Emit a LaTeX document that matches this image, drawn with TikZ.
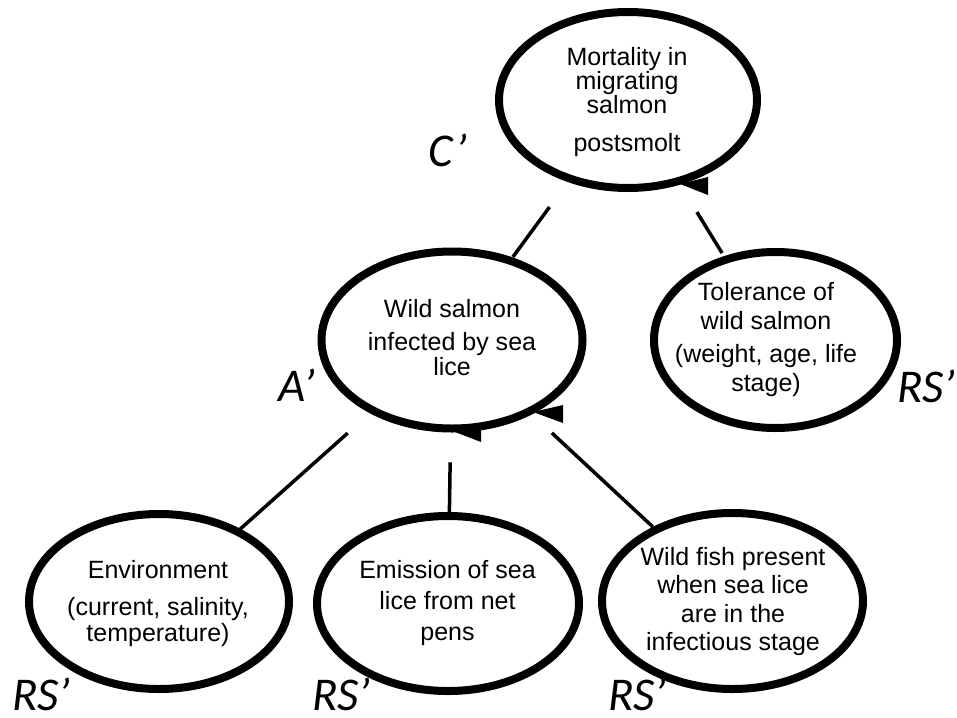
\documentclass[tikz,border=0pt]{standalone}
\usepackage{fontspec}
\setmainfont{Liberation Sans}
\newfontfamily\lblfont{Carlito}
\usetikzlibrary{shapes.geometric,calc}
\tikzset{
  bubble/.style={ellipse, draw=black, line width=8pt, inner sep=0pt},
  bubtext/.style={align=center, inner sep=0pt, font=\fontsize{25pt}{#1}\selectfont},
  conn/.style={line width=3.5pt},
  tipmark/.style={fill=black},
  tag/.style={font=\lblfont\itshape\fontsize{47pt}{47pt}\selectfont, anchor=base, inner sep=0pt}
}
\begin{document}
\begin{tikzpicture}[x=1pt,y=-1pt]
  \useasboundingbox (0,0) rectangle (957,717);

  % ellipses
  \node[bubble, minimum width=258pt, minimum height=176pt] (mort) at (628,100) {};
  \node[bubble, minimum width=261pt, minimum height=177pt] (wild) at (452,340) {};
  \node[bubble, minimum width=243pt, minimum height=176pt] (tol)  at (775.5,340) {};
  \node[bubble, minimum width=260pt, minimum height=175pt] (env)  at (159,601.5) {};
  \node[bubble, minimum width=262pt, minimum height=175pt] (emis) at (448,603.5) {};
  \node[bubble, minimum width=261pt, minimum height=176pt] (fish) at (732.5,601) {};

  % texts inside the ellipses
  \node[bubtext=24pt] (mortT) at (627,102) {Mortality in\\migrating\\salmon\\[14pt]postsmolt};
  \node[bubtext=25pt] (wildT) at (452,338) {Wild salmon\\[8pt]infected by sea\\lice};
  \node[bubtext=29pt] (tolT)  at (766,340) {Tolerance of\\wild salmon\\[4pt](weight, age, life\\stage)};
  \node[bubtext=26pt] (envT)  at (158,603.5) {Environment\\[11pt](current, salinity,\\temperature)};
  \node[bubtext=31pt] (emisT) at (447.5,603) {Emission of sea\\lice from net\\pens};
  \node[bubtext=28.5pt] (fishT) at (733,601.5) {Wild fish present\\when sea lice\\are in the\\infectious stage};

  % connectors
  \draw[conn] ($(mort)!0.446!(wild)$) -- ($(mort)!0.654!(wild)$);
  \draw[conn] ($(mort)!0.467!(tol)$)  -- ($(mort)!0.6375!(tol)$);
  \draw[conn] ($(wild)!0.356!(env)$)  -- ($(wild)!0.724!(env)$);
  \draw[conn] ($(wild)!0.464!(emis)$) -- ($(wild)!0.654!(emis)$);
  \draw[conn] ($(wild)!0.356!(fish)$) -- ($(wild)!0.716!(fish)$);

  % arrow tips on the ellipse outlines
  \fill[tipmark] ($(mort)+(80,77)$) -- ($(mort)+(80,95)$) -- ($(mort)+(52,84)$) -- cycle;
  \fill[tipmark] ($(wild)+(111,65)$) -- ($(wild)+(111,83)$) -- ($(wild)+(81,72)$) -- cycle;
  \fill[tipmark] ($(wild)+(29,84)$) -- ($(wild)+(29,102)$) -- ($(wild)+(3,92)$) -- cycle;

  % labels
  \node[tag] (lC)  at (448,166) {C’};
  \node[tag] (lA)  at (297,401) {A’};
  \node[tag] (lR1) at (926,402) {RS’};
  \node[tag] (lR2) at (41,710) {RS’};
  \node[tag] (lR3) at (341,710) {RS’};
  \node[tag] (lR4) at (637,710) {RS’};
\end{tikzpicture}
\end{document}
